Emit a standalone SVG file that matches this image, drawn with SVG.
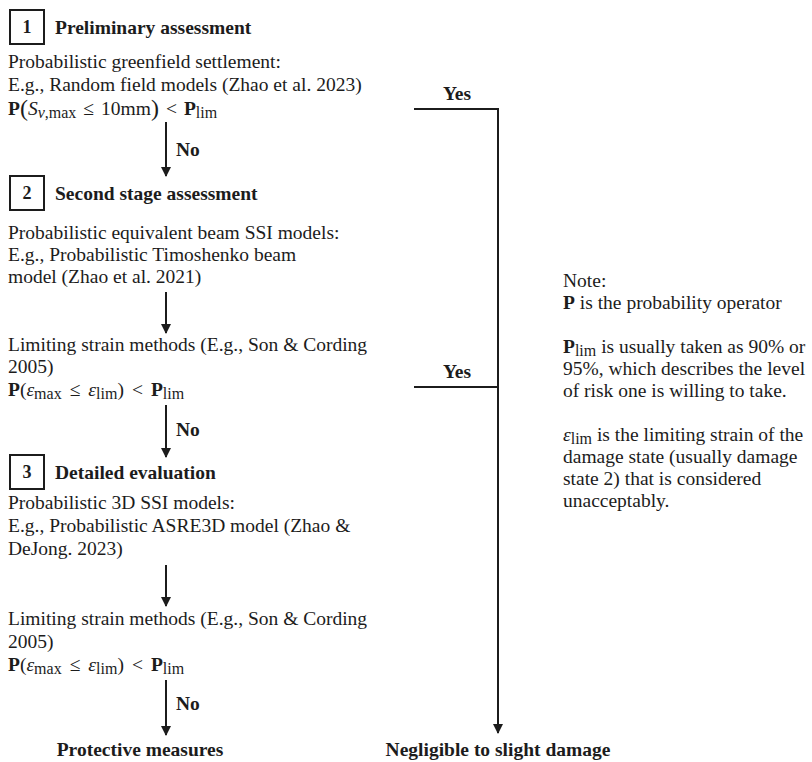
<svg xmlns="http://www.w3.org/2000/svg" width="812" height="762" viewBox="0 0 812 762">
  <style>
    text { font-family: "Liberation Serif", "Times New Roman", serif; font-size: 19.5px; fill: #1c1c1c; }
    .b { font-weight: bold; }
    .i { font-style: italic; }
    .sub { font-size: 16px; }
    .num { font-weight: bold; text-anchor: middle; font-size: 18px; }
    .mid { text-anchor: middle; }
    .box { fill: none; stroke: #1c1c1c; stroke-width: 2; }
    .ln { fill: none; stroke: #1c1c1c; stroke-width: 2; }
  </style>
  <defs>
    <marker id="arrow" viewBox="0 0 10 12" refX="9" refY="6" markerWidth="5" markerHeight="6" orient="auto" markerUnits="strokeWidth">
      <path d="M0,1 L10,6 L0,11 z" fill="#1c1c1c"/>
    </marker>
  </defs>
  <rect width="812" height="762" fill="#ffffff"/>

  <!-- Stage 1 -->
  <g id="stage1">
    <rect class="box" x="10" y="10" width="34" height="34"/>
    <text class="num" x="27" y="33">1</text>
    <text class="b" x="55" y="34">Preliminary assessment</text>
    <text x="8" y="68">Probabilistic greenfield settlement:</text>
    <text x="8" y="91">E.g., Random field models (Zhao et al. 2023)</text>
    <text x="8" y="115"><tspan class="b">P</tspan><tspan style="font-size:24px" dy="1">(</tspan><tspan class="i" dy="-1">S</tspan><tspan class="sub" dy="3"><tspan class="i">v</tspan>,max</tspan><tspan dy="-3" dx="7">≤</tspan><tspan dx="7">10mm</tspan><tspan style="font-size:24px" dy="1">)</tspan><tspan dy="-1" dx="7">&lt;</tspan><tspan class="b" dx="7">P</tspan><tspan class="sub" dy="3">lim</tspan></text>
  </g>

  <!-- Stage 2 -->
  <g id="stage2">
    <rect class="box" x="10" y="176" width="34" height="34"/>
    <text class="num" x="27" y="199">2</text>
    <text class="b" x="55" y="200">Second stage assessment</text>
    <text x="8" y="239">Probabilistic equivalent beam SSI models:</text>
    <text x="8" y="261">E.g., Probabilistic Timoshenko beam</text>
    <text x="8" y="283">model (Zhao et al. 2021)</text>
  </g>

  <g id="strain2">
    <text x="8" y="351">Limiting strain methods (E.g., Son &amp; Cording</text>
    <text x="8" y="373">2005)</text>
    <text x="8" y="396"><tspan class="b">P</tspan>(<tspan class="i">ε</tspan><tspan class="sub" dy="3">max</tspan><tspan dy="-3" dx="8">≤</tspan><tspan class="i" dx="8">ε</tspan><tspan class="sub" dy="3">lim</tspan><tspan dy="-3">)</tspan><tspan dx="8">&lt;</tspan><tspan class="b" dx="8">P</tspan><tspan class="sub" dy="3">lim</tspan></text>
  </g>

  <!-- Stage 3 -->
  <g id="stage3">
    <rect class="box" x="10" y="455" width="34" height="34"/>
    <text class="num" x="27" y="478">3</text>
    <text class="b" x="55" y="479">Detailed evaluation</text>
    <text x="8" y="509">Probabilistic 3D SSI models:</text>
    <text x="8" y="532">E.g., Probabilistic ASRE3D model (Zhao &amp;</text>
    <text x="8" y="555">DeJong. 2023)</text>
  </g>

  <g id="strain3">
    <text x="8" y="625">Limiting strain methods (E.g., Son &amp; Cording</text>
    <text x="8" y="648">2005)</text>
    <text x="8" y="671"><tspan class="b">P</tspan>(<tspan class="i">ε</tspan><tspan class="sub" dy="3">max</tspan><tspan dy="-3" dx="8">≤</tspan><tspan class="i" dx="8">ε</tspan><tspan class="sub" dy="3">lim</tspan><tspan dy="-3">)</tspan><tspan dx="8">&lt;</tspan><tspan class="b" dx="8">P</tspan><tspan class="sub" dy="3">lim</tspan></text>
  </g>

  <!-- Outcomes -->
  <g id="protective">
    <text class="b mid" x="140" y="756">Protective measures</text>
  </g>
  <g id="negligible">
    <text class="b mid" x="498" y="756">Negligible to slight damage</text>
  </g>

  <!-- Note -->
  <g id="note">
    <text x="563" y="287">Note:</text>
    <text x="563" y="309"><tspan class="b">P</tspan> is the probability operator</text>
    <text x="563" y="353"><tspan class="b">P</tspan><tspan class="sub" dy="3">lim</tspan><tspan dy="-3"> is usually taken as 90% or</tspan></text>
    <text x="563" y="375">95%, which describes the level</text>
    <text x="563" y="397">of risk one is willing to take.</text>
    <text x="563" y="441"><tspan class="i">ε</tspan><tspan class="sub" dy="3">lim</tspan><tspan dy="-3"> is the limiting strain of the</tspan></text>
    <text x="563" y="463">damage state (usually damage</text>
    <text x="563" y="485">state 2) that is considered</text>
    <text x="563" y="507">unacceptably.</text>
  </g>

  <!-- Connectors -->
  <g id="connectors">
    <line class="ln" x1="166" y1="122" x2="166" y2="176" marker-end="url(#arrow)"/>
    <text class="b" x="176" y="156">No</text>
    <line class="ln" x1="166" y1="292" x2="166" y2="333" marker-end="url(#arrow)"/>
    <line class="ln" x1="166" y1="405" x2="166" y2="457" marker-end="url(#arrow)"/>
    <text class="b" x="176" y="436">No</text>
    <line class="ln" x1="166" y1="565" x2="166" y2="606" marker-end="url(#arrow)"/>
    <line class="ln" x1="166" y1="680" x2="166" y2="735" marker-end="url(#arrow)"/>
    <text class="b" x="176" y="710">No</text>

    <polyline class="ln" points="414,109 498,109 498,733" marker-end="url(#arrow)"/>
    <text class="b mid" x="457" y="100">Yes</text>
    <line class="ln" x1="414" y1="387" x2="498" y2="387"/>
    <text class="b mid" x="457" y="378">Yes</text>
  </g>
</svg>
